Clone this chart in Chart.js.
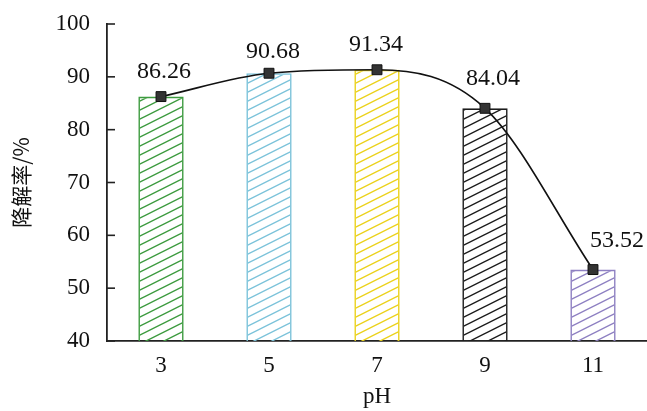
<!DOCTYPE html>
<html>
<head>
<meta charset="utf-8">
<script src="https://cdn.jsdelivr.net/npm/chart.js@4"></script>
<style>
  html, body { margin: 0; padding: 0; background: #fff; }
  #wrap { width: 647px; height: 411px; }
</style>
</head>
<body>
<div id="wrap"><canvas id="chart"></canvas></div>
<script>
// data
const phLabels = ['3', '5', '7', '9', '11'];
const rates = [86.26, 90.68, 91.34, 84.04, 53.52];
const barColors = ['#3d9b3f', '#7cc3da', '#ebd21c', '#1c1c1c', '#8e80c2'];
const yMin = 40, yMax = 100, yStep = 10;

// where each value label sits relative to its point (px)
const labelOffsets = [[3, -25], [4, -22], [-1, -25], [8, -30], [24, -29]];

const serif = '"Liberation Serif", "Times New Roman", serif';

// hatch pattern "/" in the bar colour
function hatch(col) {
    const c = document.createElement('canvas');
    c.width = 18; c.height = 9;
    const g = c.getContext('2d');
    g.strokeStyle = col;
    g.lineWidth = 1.4;
    g.beginPath();
    g.moveTo(-4, 11); g.lineTo(22, -2);
    g.moveTo(-22, 11); g.lineTo(4, -2);
    g.moveTo(14, 11); g.lineTo(40, -2);
    g.stroke();
    return g.createPattern(c, 'repeat');
}

// inward ticks on the y axis
const innerTicks = {
    id: 'innerTicks',
    afterDraw(chart) {
        const y = chart.scales.y, ctx = chart.ctx;
        ctx.save();
        ctx.strokeStyle = '#222';
        ctx.lineWidth = 1.6;
        y.ticks.forEach(t => {
            const py = y.getPixelForValue(t.value);
            ctx.beginPath();
            ctx.moveTo(y.right, py);
            ctx.lineTo(y.right + 8, py);
            ctx.stroke();
        });
        ctx.restore();
    }
};

// value labels over the points
const valueLabels = {
    id: 'valueLabels',
    afterDatasetsDraw(chart) {
        const meta = chart.getDatasetMeta(0);
        const ctx = chart.ctx;
        ctx.save();
        ctx.fillStyle = '#111';
        ctx.font = '24px ' + serif;
        ctx.textAlign = 'center';
        ctx.textBaseline = 'middle';
        meta.data.forEach((pt, i) => {
            const o = labelOffsets[i];
            ctx.fillText(rates[i].toFixed(2), pt.x + o[0], pt.y + o[1]);
        });
        ctx.restore();
    }
};

const ctx = document.getElementById('chart').getContext('2d');
new Chart(ctx, {
    data: {
        labels: phLabels,
        datasets: [
            {
                type: 'line',
                data: rates,
                order: 0,
                borderColor: '#111',
                borderWidth: 1.6,
                cubicInterpolationMode: 'monotone',
                pointStyle: 'rect',
                pointRadius: 7,
                pointBackgroundColor: '#333',
                pointBorderColor: '#111',
                pointBorderWidth: 1
            },
            {
                type: 'bar',
                data: rates,
                order: 1,
                backgroundColor: barColors.map(hatch),
                borderColor: barColors,
                borderWidth: 1.6,
                barPercentage: 0.42,
                categoryPercentage: 1
            }
        ]
    },
    options: {
        responsive: true,
        maintainAspectRatio: false,
        animation: false,
        layout: { autoPadding: false, padding: { top: 24, right: 0, left: 0, bottom: 0 } },
        plugins: { legend: { display: false }, tooltip: { enabled: false } },
        scales: {
            x: {
                grid: { display: false, drawTicks: false },
                border: { display: true, color: '#222', width: 1.8 },
                ticks: { color: '#111', font: { family: serif, size: 23 }, padding: 11 },
                title: { display: true, text: 'pH', color: '#111', font: { family: serif, size: 23 }, padding: { top: 2, bottom: 0 } },
                afterFit(s) { s.height = 70; s.paddingLeft = 0; s.paddingRight = 0; }
            },
            y: {
                min: yMin, max: yMax,
                grid: { display: false, drawTicks: false },
                border: { display: true, color: '#222', width: 1.8 },
                ticks: { stepSize: yStep, color: '#111', font: { family: serif, size: 23 }, padding: 17 },
                title: { display: true, text: '降解率/%', color: '#111', font: { family: '"Noto Sans CJK SC"', size: 21 }, padding: { top: 8, bottom: 0 } },
                afterFit(s) { s.width = 107; s.paddingTop = 0; s.paddingBottom = 0; }
            }
        }
    },
    plugins: [innerTicks, valueLabels]
});
</script>
</body>
</html>
